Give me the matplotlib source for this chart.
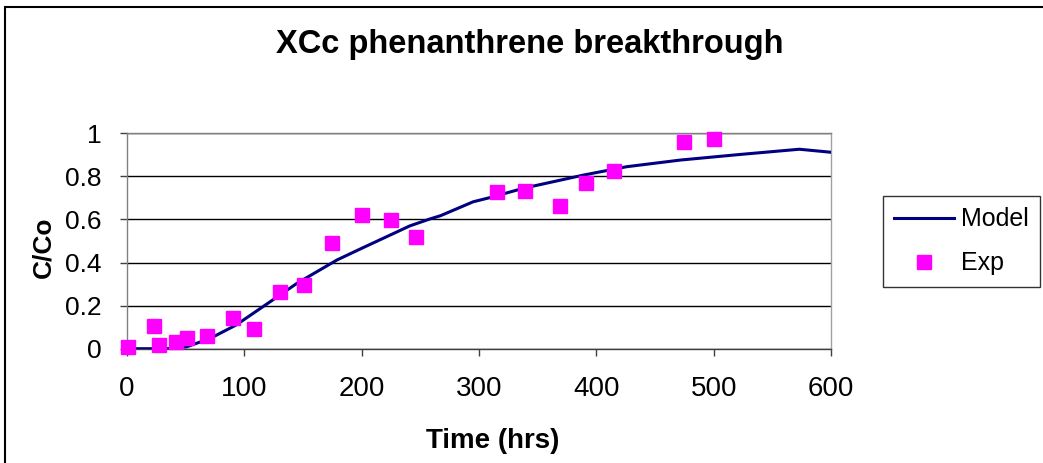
import numpy as np
import matplotlib.pyplot as plt
from matplotlib.patches import Rectangle

plt.rcParams['font.family'] = ['Liberation Sans', 'DejaVu Sans']

# model curve (hrs, C/Co)
model_t = [0, 34, 51, 71, 93, 122, 145, 179, 200, 241, 258, 267, 295, 309, 338, 389, 426, 472, 523, 573, 600]
model_c = [0, 0, 0.009, 0.048, 0.11, 0.218, 0.304, 0.412, 0.466, 0.57, 0.602, 0.617, 0.682, 0.701, 0.745, 0.806, 0.845, 0.876, 0.902, 0.926, 0.912]

# experimental points
exp_t = [1, 23, 27, 42, 51.5, 68, 90, 108, 130, 150.5, 175, 200, 225, 246, 315, 339, 369, 391, 415, 474.5, 500]
exp_c = [0.01, 0.105, 0.016, 0.033, 0.048, 0.059, 0.142, 0.09, 0.263, 0.296, 0.491, 0.622, 0.597, 0.519,
         0.728, 0.732, 0.664, 0.768, 0.823, 0.961, 0.975]

W, H = 1043, 463
fig = plt.figure(figsize=(W / 100, H / 100), dpi=100)
ax = fig.add_axes([127 / W, 1 - 348.7 / H, (831 - 127) / W, (348.7 - 133.3) / H])

ax.plot(model_t, model_c, color='#000080', lw=2.2, label='Model', zorder=3)
ax.plot(exp_t, exp_c, 's', color='#ff00ff', ms=10, mec='#ff00ff', label='Exp', zorder=4, clip_on=False)

ax.set_xlim(0, 600)
ax.set_ylim(0, 1)
ax.set_xticks(np.arange(0, 601, 100))
ax.set_yticks([0, 0.2, 0.4, 0.6, 0.8, 1])
ax.set_yticklabels(['0', '0.2', '0.4', '0.6', '0.8', '1'])
ax.yaxis.grid(True, color='black', lw=1)
ax.set_axisbelow(True)
ax.tick_params(axis='x', direction='out', length=5, width=1, color='#404040', labelsize=20, pad=15)
ax.tick_params(axis='y', direction='out', length=5, width=1, color='#404040', labelsize=19, pad=13)
ax.spines['left'].set_color('#808080')
ax.spines['bottom'].set_color('#404040')
ax.spines['right'].set_color('#a0a0a0')
ax.spines['top'].set_color('#808080')
for s in ax.spines.values():
    s.set_linewidth(1)

# axis titles and chart title
fig.text(493 / W, 1 - 441 / H, 'Time (hrs)', ha='center', va='center', fontsize=20, fontweight='bold')
fig.text(43 / W, 1 - 247 / H, 'C/Co', ha='center', va='center', rotation=90, fontsize=19, fontweight='bold')
fig.text(0.508, 1 - 45 / H, 'XCc phenanthrene breakthrough', ha='center', va='center',
         fontsize=23.5, fontweight='bold')

leg = ax.legend(loc='upper left', bbox_to_anchor=(883 / W, 1 - 196 / H), bbox_transform=fig.transFigure,
                fontsize=18, frameon=True, fancybox=False, edgecolor='black', borderpad=0.45,
                handlelength=2.4, handletextpad=0.28, labelspacing=0.8, markerscale=0.95,
                borderaxespad=0)
leg.get_frame().set_linewidth(1)

fig.patches.append(Rectangle((5 / W, -0.05), 1.2, 1 - 7 / H + 0.05, transform=fig.transFigure,
                             fill=False, edgecolor='black', lw=1.5))

fig.savefig('out.png', dpi=100)
